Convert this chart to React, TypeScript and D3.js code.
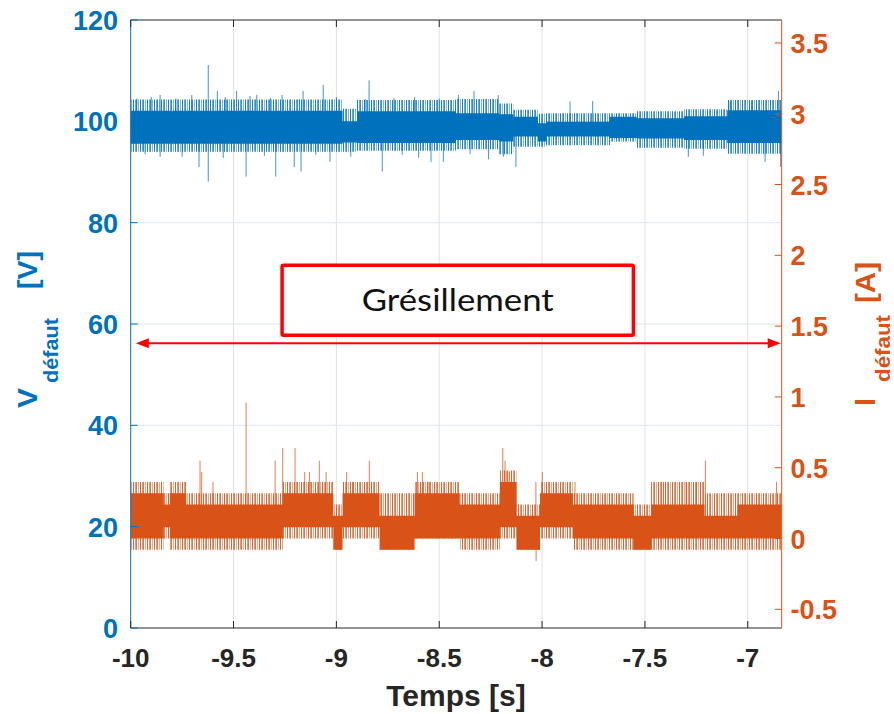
import React from "react";
import * as d3 from "d3";

// ---------- Data ----------
// Voltage (left axis, V): piecewise bands of the noisy trace
const vSegStart = [-10, -8.97, -8.9, -8.42, -8.21, -8.14, -8.02, -7.98, -7.67, -7.54, -7.31, -7.1];
const vCoreLo = [95.6, 95.8, 95.7, 96.3, 96.0, 97.0, 96.0, 97.0, 96.7, 96.6, 96.3, 95.7];
const vCoreHi = [102.1, 100.0, 102.0, 101.6, 101.4, 100.9, 99.6, 99.9, 100.9, 100.6, 101.0, 102.2];
const vFringeLo = [94.0, 94.0, 94.2, 94.5, 93.5, 95.0, 95.0, 95.3, 96.0, 94.8, 94.6, 93.6];
const vFringeHi = [104.3, 102.5, 104.2, 104.4, 103.5, 102.3, 101.5, 101.6, 101.6, 102.0, 102.4, 104.2];
// isolated spikes [t (s), V]
const vSpikes: [number, number][] = [
  [-9.97, 104.5], [-9.9, 104.8], [-9.857, 105.2], [-9.78, 104.5], [-9.703, 105.2], [-9.623, 111.1],
  [-9.579, 106.0], [-9.54, 104.8], [-9.485, 106.0], [-9.42, 105.0], [-9.387, 105.2], [-9.32, 104.6],
  [-9.264, 105.2], [-9.18, 104.4], [-9.162, 106.0], [-9.064, 107.2], [-9.0, 104.8], [-8.86, 104.4],
  [-8.841, 108.1], [-8.72, 104.6], [-8.62, 104.8], [-8.5, 104.5], [-8.407, 105.2], [-8.331, 106.0],
  [-8.213, 105.2], [-7.864, 103.9], [-7.754, 104.0], [-7.086, 103.9], [-6.98, 104.0], [-6.851, 106.0],
  [-9.93, 93.5], [-9.857, 93.0], [-9.75, 93.0], [-9.668, 91.0], [-9.623, 88.1], [-9.55, 92.8],
  [-9.439, 89.1], [-9.35, 93.2], [-9.295, 89.1], [-9.205, 91.0], [-9.172, 90.1], [-9.1, 93.4],
  [-9.031, 92.0], [-8.93, 93.0], [-8.777, 90.1], [-8.68, 93.4], [-8.6, 92.8], [-8.54, 92.0],
  [-8.48, 92.0], [-8.35, 93.5], [-8.26, 92.5], [-8.188, 93.0], [-8.127, 91.0], [-7.289, 93.0],
  [-7.216, 93.2], [-6.916, 92.0], [-6.84, 91.0],
];

// Current (right axis, A): piecewise bands of the quantised trace
const iSegStart = [-10, -9.84, -9.81, -9.73, -9.65, -9.26, -9.015, -8.97, -8.79, -8.62, -8.4, -8.205, -8.124, -8.01, -7.85, -7.685, -7.555, -7.47, -7.21, -7.05];
const iCoreLo = [0, 0.08, 0, 0, 0, 0.08, -0.08, 0.08, -0.08, 0, 0, 0.08, -0.08, 0.08, 0, 0, -0.08, 0, 0, 0];
const iCoreHi = [0.32, 0.24, 0.32, 0.24, 0.24, 0.32, 0.16, 0.32, 0.16, 0.32, 0.24, 0.4, 0.16, 0.32, 0.24, 0.24, 0.16, 0.24, 0.16, 0.24];
const iFringeLo = [-0.08, 0, -0.08, -0.08, -0.08, 0, -0.08, 0, -0.08, 0, -0.08, 0, -0.08, 0, -0.08, -0.08, -0.08, -0.08, -0.08, -0.08];
const iFringeHi = [0.4, 0.32, 0.4, 0.32, 0.32, 0.4, 0.24, 0.4, 0.32, 0.4, 0.32, 0.48, 0.24, 0.4, 0.32, 0.32, 0.24, 0.4, 0.32, 0.32];
const iSpikes: [number, number][] = [
  [-9.663, 0.55], [-9.655, 0.47], [-9.6, 0.4], [-9.439, 0.96], [-9.298, 0.55], [-9.261, 0.64],
  [-9.201, 0.64], [-9.154, 0.47], [-9.131, 0.47], [-9.083, 0.55], [-9.05, 0.47], [-8.95, 0.47],
  [-8.92, 0.4], [-8.84, 0.55], [-8.606, 0.47], [-8.582, 0.47], [-8.55, 0.4], [-8.191, 0.64],
  [-8.18, 0.55], [-8.16, 0.47], [-8.03, 0.4], [-7.999, 0.47], [-7.84, 0.4], [-7.41, 0.4],
  [-7.3, 0.4], [-7.25, 0.4], [-7.206, 0.55], [-6.86, 0.4], [-8.029, -0.16],
];

// Axes
const xDomain = [-10, -6.835];
const xTicks = [-10, -9.5, -9, -8.5, -8, -7.5, -7];
const xTickLabels = ["-10", "-9.5", "-9", "-8.5", "-8", "-7.5", "-7"];
const vDomain = [0, 120];
const vTicks = [0, 20, 40, 60, 80, 100, 120];
const iDomain = [-0.632, 3.662];
const iTicks = [-0.5, 0, 0.5, 1, 1.5, 2, 2.5, 3, 3.5];
const iTickLabels = ["-0.5", "0", "0.5", "1", "1.5", "2", "2.5", "3", "3.5"];

// Annotation (data coordinates)
const boxT = [-9.264, -7.556];
const boxV = [57.8, 71.6];
const boxLabel = "Grésillement";
const arrowT = [-9.975, -6.84];
const arrowV = 56.2;

// ---------- Layout ----------
const W = 894;
const H = 714;
const L = 130.7;
const R = 781.7;
const T = 20;
const B = 628;
const BLUE = "#0072BD";
const ORANGE = "#D95319";
const DARK = "#262626";
const FONT = "'Liberation Sans', Arial, sans-serif";

type Seg = { t: number; lo: number; hi: number };
function makeSegs(starts: number[], lo: number[], hi: number[]): Seg[] {
  const s = starts.map((t, k) => ({ t, lo: lo[k], hi: hi[k] }));
  const last = s[s.length - 1];
  s.push({ t: xDomain[1], lo: last.lo, hi: last.hi });
  return s;
}
function coreAt(starts: number[], lo: number[], hi: number[], t: number) {
  let k = 0;
  for (let j = 0; j < starts.length; j++) if (t >= starts[j]) k = j;
  return (lo[k] + hi[k]) / 2;
}

function Stripes({ id, color }: { id: string; color: string }) {
  return (
    <pattern id={id} width={7} height={40} patternUnits="userSpaceOnUse">
      <rect x={0} y={0} width={1} height={40} fill={color} opacity={0.9} />
      <rect x={2} y={0} width={1} height={40} fill={color} opacity={0.6} />
      <rect x={3} y={0} width={1} height={40} fill={color} opacity={0.8} />
      <rect x={5} y={0} width={1} height={40} fill={color} opacity={0.5} />
    </pattern>
  );
}

export default function App() {
  const x = d3.scaleLinear().domain(xDomain).range([L, R]);
  const yV = d3.scaleLinear().domain(vDomain).range([B, T]);
  const yI = d3.scaleLinear().domain(iDomain).range([B, T]);

  const areaV = d3
    .area<Seg>()
    .x((d) => x(d.t))
    .y0((d) => yV(d.lo))
    .y1((d) => yV(d.hi))
    .curve(d3.curveStepAfter);
  const areaI = d3
    .area<Seg>()
    .x((d) => x(d.t))
    .y0((d) => yI(d.lo))
    .y1((d) => yI(d.hi))
    .curve(d3.curveStepAfter);

  const vCore = makeSegs(vSegStart, vCoreLo, vCoreHi);
  const vFringe = makeSegs(vSegStart, vFringeLo, vFringeHi);
  const iCore = makeSegs(iSegStart, iCoreLo, iCoreHi);
  const iFringe = makeSegs(iSegStart, iFringeLo, iFringeHi);

  const ax0 = x(arrowT[0]);
  const ax1 = x(arrowT[1]);
  const ay = yV(arrowV);

  const bold = { fontFamily: FONT, fontWeight: "bold" as const };

  return (
    <svg
      width={W}
      height={H}
      viewBox={`0 0 ${W} ${H}`}
      style={{ position: "absolute", left: 0, top: 0, display: "block", background: "#fff" }}
    >
      <defs>
        <clipPath id="plotClip">
          <rect x={L} y={T} width={R - L} height={B - T} />
        </clipPath>
        <Stripes id="vStripe" color={BLUE} />
        <Stripes id="iStripe" color={ORANGE} />
      </defs>

      {/* grid */}
      <g>
        {xTicks.slice(1).map((t) => (
          <line key={"gx" + t} x1={x(t)} x2={x(t)} y1={T} y2={B} stroke="#e2e2e2" strokeWidth={1} />
        ))}
        {vTicks.slice(1, -1).map((v) => (
          <line key={"gy" + v} x1={L} x2={R} y1={yV(v)} y2={yV(v)} stroke="#dbe6f0" strokeWidth={1} />
        ))}
      </g>

      {/* data */}
      <g clipPath="url(#plotClip)">
        <path d={areaV(vFringe) || ""} fill="url(#vStripe)" />
        {vSpikes.map(([t, v], k) => (
          <line
            key={"vs" + k}
            x1={x(t)}
            x2={x(t)}
            y1={yV(coreAt(vSegStart, vCoreLo, vCoreHi, t))}
            y2={yV(v)}
            stroke={BLUE}
            strokeOpacity={0.75}
            strokeWidth={1}
          />
        ))}
        <path d={areaV(vCore) || ""} fill={BLUE} />

        <path d={areaI(iFringe) || ""} fill="url(#iStripe)" />
        {iSpikes.map(([t, v], k) => (
          <line
            key={"is" + k}
            x1={x(t)}
            x2={x(t)}
            y1={yI(coreAt(iSegStart, iCoreLo, iCoreHi, t))}
            y2={yI(v)}
            stroke={ORANGE}
            strokeOpacity={0.75}
            strokeWidth={1}
          />
        ))}
        <path d={areaI(iCore) || ""} fill={ORANGE} />
      </g>

      {/* box lines */}
      <line x1={L} x2={R} y1={T} y2={T} stroke={DARK} strokeWidth={1} />
      <line x1={L} x2={R} y1={B} y2={B} stroke={DARK} strokeWidth={1} />
      <line x1={L} x2={L} y1={T} y2={B} stroke={BLUE} strokeWidth={1} />
      <line x1={R} x2={R} y1={T} y2={B} stroke={ORANGE} strokeWidth={1} />

      {/* x ticks */}
      {xTicks.map((t, k) => (
        <g key={"xt" + t}>
          <line x1={x(t)} x2={x(t)} y1={B} y2={B - 7} stroke={DARK} />
          <line x1={x(t)} x2={x(t)} y1={T} y2={T + 7} stroke={DARK} />
          <text x={x(t)} y={667} textAnchor="middle" {...bold} fontSize={26} fill={DARK}>
            {xTickLabels[k]}
          </text>
        </g>
      ))}

      {/* left ticks */}
      {vTicks.map((v) => (
        <g key={"vt" + v}>
          <line x1={L} x2={L + 7} y1={yV(v)} y2={yV(v)} stroke={BLUE} />
          <text x={118} y={yV(v) + 10} textAnchor="end" {...bold} fontSize={27} fill={BLUE}>
            {v}
          </text>
        </g>
      ))}

      {/* right ticks */}
      {iTicks.map((v, k) => (
        <g key={"it" + v}>
          <line x1={R} x2={R - 7} y1={yI(v)} y2={yI(v)} stroke={ORANGE} />
          <text x={790.5} y={yI(v) + 10} textAnchor="start" {...bold} fontSize={27} fill={ORANGE}>
            {iTickLabels[k]}
          </text>
        </g>
      ))}

      {/* axis titles */}
      <text x={456} y={706} textAnchor="middle" {...bold} fontSize={30} fill={DARK}>
        Temps [s]
      </text>

      {/* left: V_défaut [V] */}
      <g fill={BLUE} {...bold}>
        <text transform="translate(37,408) rotate(-90)" fontSize={28} textLength={20} lengthAdjust="spacingAndGlyphs">
          V
        </text>
        <text transform="translate(58,383) rotate(-90)" fontSize={21} textLength={65} lengthAdjust="spacingAndGlyphs">
          défaut
        </text>
        <text transform="translate(37,289) rotate(-90)" fontSize={28} textLength={38} lengthAdjust="spacingAndGlyphs">
          [V]
        </text>
      </g>

      {/* right: I_défaut [A] */}
      <g fill={ORANGE} {...bold}>
        <text transform="translate(875,406) rotate(-90)" fontSize={29}>
          I
        </text>
        <text transform="translate(890,382) rotate(-90)" fontSize={21} textLength={67} lengthAdjust="spacingAndGlyphs">
          défaut
        </text>
        <text transform="translate(875,303) rotate(-90)" fontSize={28} textLength={41} lengthAdjust="spacingAndGlyphs">
          [A]
        </text>
      </g>

      {/* annotation */}
      <rect
        x={x(boxT[0])}
        y={yV(boxV[1])}
        width={x(boxT[1]) - x(boxT[0])}
        height={yV(boxV[0]) - yV(boxV[1])}
        fill="#fff"
        stroke="#ff0000"
        strokeWidth={3.5}
        rx={1.5}
      />
      <text
        x={(x(boxT[0]) + x(boxT[1])) / 2}
        y={311}
        textAnchor="middle"
        fontFamily="Lato, 'Open Sans', sans-serif"
        fontSize={31}
        textLength={192}
        lengthAdjust="spacingAndGlyphs"
        fill="#111"
      >
        {boxLabel}
      </text>
      <line x1={ax0 + 8} x2={ax1 - 8} y1={ay} y2={ay} stroke="#ff0000" strokeWidth={2} />
      <polygon points={`${ax0},${ay} ${ax0 + 13},${ay - 5} ${ax0 + 13},${ay + 5}`} fill="#ff0000" />
      <polygon points={`${ax1},${ay} ${ax1 - 13},${ay - 5} ${ax1 - 13},${ay + 5}`} fill="#ff0000" />
    </svg>
  );
}
